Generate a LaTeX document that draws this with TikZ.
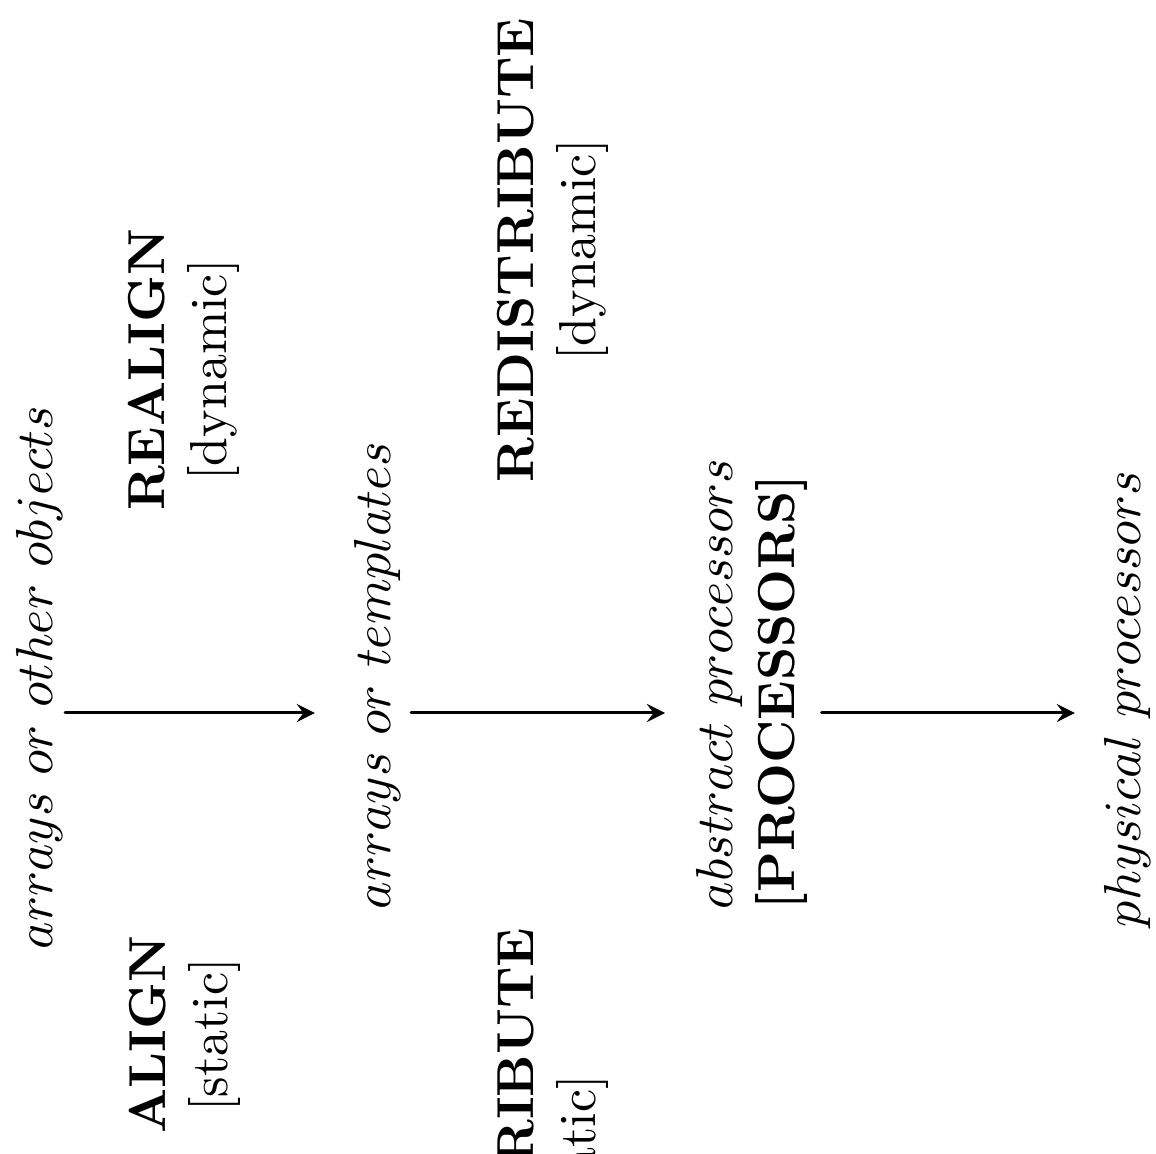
\documentclass[tikz,border=0pt]{standalone}
\usepackage{fix-cm}
\begin{document}
\begin{tikzpicture}[x=0.2pt,y=-0.2pt,line join=round,line cap=round,>=stealth,
  font=\fontsize{10.4}{12.5}\selectfont,
  every node/.style={inner sep=0pt},
  item/.style={rotate=90,anchor=base west},
  op/.style={rotate=90,align=center},
  flow/.style={->,line width=0.6pt}]
\def \xmax{1156}
\def \ymax{1154}
\def \ay{713}
\useasboundingbox (0,0) rectangle (\xmax,\ymax);
\clip (0,0) rectangle (\xmax,\ymax);
% the four stages, read upwards
\node[item] (objects) at (52,950) {$arrays\ or\ other\ objects$};
\node[item] (templates) at (390,910) {$arrays\ or\ templates$};
\node[rotate=90,anchor=north west,align=left] (abstract) at (695,910) {$abstract\ processors$\\\textbf{[PROCESSORS]}};
\node[item] (physical) at (1140,928) {$physical\ processors$};
% directives on both sides of the arrows
\node[op] (align) at (185,1035) {\textbf{ALIGN}\\{[static]}};
\node[op] (realign) at (184,370) {\textbf{REALIGN}\\{[dynamic]}};
\node[op] (distribute) at (553,1118) {\textbf{DISTRIBUTE}\\{[static]\hspace*{1.3em}}};
\node[op] (redistribute) at (553,250) {\textbf{REDISTRIBUTE}\\{[dynamic]}};
\foreach \a/\b/\s/\e in {objects/templates/0.4/7.6,templates/abstract/2/6,abstract/physical/2.6/5.6}
  {\draw[flow,shorten <=\s pt,shorten >=\e pt] (\a.south |- 0,\ay) -- (\b.north |- 0,\ay);}
\end{tikzpicture}
\end{document}
